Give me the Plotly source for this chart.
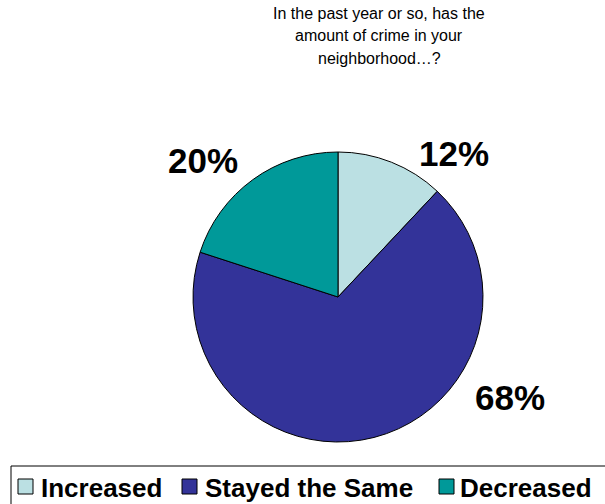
import plotly.graph_objects as go

# Survey answers and their shares (percent)
labels = ["Increased", "Stayed the Same", "Decreased"]
values = [12, 68, 20]
colors = ["#BBE0E3", "#333399", "#009999"]

title_lines = [
    "In the past year or so, has the",
    "amount of crime in your",
    "neighborhood…?",
]

W, H = 605, 504


def px(x):
    return x / W


def py(y):
    return 1 - y / H


fig = go.Figure(
    go.Pie(
        labels=labels,
        values=values,
        sort=False,
        direction="clockwise",
        rotation=0,
        marker=dict(colors=colors, line=dict(color="black", width=1)),
        textinfo="none",
        hoverinfo="label+percent",
        showlegend=False,
        domain=dict(x=[px(193), px(483)], y=[py(442), py(152)]),
    )
)

annotations = []

# Question text above the pie, one line per annotation
for i, line in enumerate(title_lines):
    annotations.append(dict(
        x=px(379), y=py(13 + 22.5 * i), xref="paper", yref="paper",
        xanchor="center", yanchor="middle", showarrow=False,
        text=line,
        font=dict(family="Liberation Sans, Arial", size=16, color="black"),
    ))

# Percentage labels beside each slice
label_pos = [(454, 153), (510, 397), (203, 160)]
for v, (lx, ly) in zip(values, label_pos):
    annotations.append(dict(
        x=px(lx), y=py(ly), xref="paper", yref="paper",
        xanchor="center", yanchor="middle", showarrow=False,
        text=f"<b>{v}%</b>",
        font=dict(family="Liberation Sans, Arial", size=35, color="black"),
    ))

# Legend drawn as a boxed row of swatches and labels
shapes = [dict(
    type="rect", xref="paper", yref="paper",
    x0=px(11), x1=px(W + 10), y0=py(466), y1=py(H + 10),
    line=dict(color="black", width=1), fillcolor="white", layer="below",
)]
swatch_x = [18, 182, 439]
text_x = [39, 203, 458]
leg_y = 486.5
for name, col, sx, tx in zip(labels, colors, swatch_x, text_x):
    shapes.append(dict(
        type="rect", xref="paper", yref="paper",
        x0=px(sx), x1=px(sx + 15), y0=py(leg_y + 7.5), y1=py(leg_y - 7.5),
        line=dict(color="black", width=1), fillcolor=col,
    ))
    annotations.append(dict(
        x=px(tx), y=py(leg_y + 1), xref="paper", yref="paper",
        xanchor="left", yanchor="middle", showarrow=False,
        text=f"<b>{name}</b>",
        font=dict(family="Liberation Sans, Arial", size=26, color="black"),
    ))

fig.update_layout(
    width=W, height=H,
    margin=dict(l=0, r=0, t=0, b=0),
    paper_bgcolor="white",
    plot_bgcolor="white",
    annotations=annotations,
    shapes=shapes,
)

fig.write_html("out.html")
